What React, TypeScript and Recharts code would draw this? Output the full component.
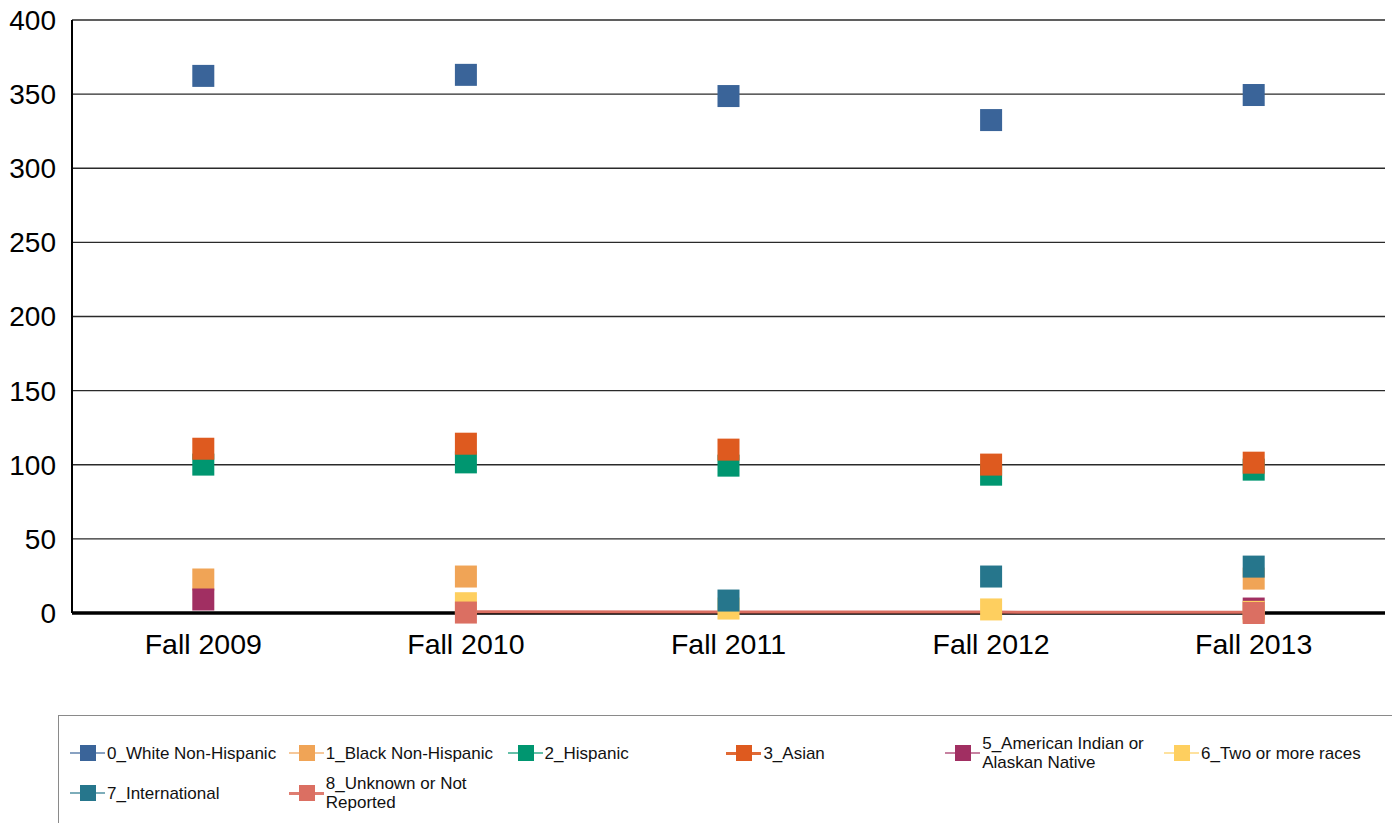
import React from "react";
import { LineChart, Line, XAxis, YAxis, CartesianGrid } from "recharts";

const categories = ["Fall 2009", "Fall 2010", "Fall 2011", "Fall 2012", "Fall 2013"];
const yTicks = [0, 50, 100, 150, 200, 250, 300, 350, 400];

const white = [362.3, 363, 348.7, 332.5, 349.4];
const black = [22.6, 24.6, null, null, 23.2];
const hispanic = [100.1, 101.6, 99.4, 93.3, 96.7];
const asian = [110.8, 114.2, 110.2, 100.1, 101.4];
const amIndian = [9.1, null, null, null, 3.0];
const twoOrMore = [null, 6.6, 3.0, 2.4, 0.8];
const international = [null, null, 8.4, 24.6, 31.3];
const unknownMarkers = [null, 0.3, null, null, 0];
const unknownLine = [null, 0.9, 0.7, 0.6, 0.5];

const seriesNames = [
  "0_White Non-Hispanic",
  "1_Black Non-Hispanic",
  "2_Hispanic",
  "3_Asian",
  "5_American Indian or\nAlaskan Native",
  "6_Two or more races",
  "7_International",
  "8_Unknown or Not\nReported",
];
const seriesKeys = ["white", "black", "hispanic", "asian", "amIndian", "twoOrMore", "international", "unknown"];
const seriesColors = ["#3A6499", "#F0A456", "#009670", "#DE5A1F", "#A12F62", "#FECF5F", "#26768C", "#DB6F62"];
const legendLineWidth = [1.5, 1.5, 1.5, 3, 1.5, 1.5, 1.5, 3];
const legendRow = [0, 0, 0, 0, 0, 0, 1, 1];
const legendCol = [0, 1, 2, 3, 4, 5, 0, 1];

const seriesValues: (number | null)[][] = [white, black, hispanic, asian, amIndian, twoOrMore, international, unknownMarkers];

const data = categories.map((c, i) => {
  const row: Record<string, any> = { name: c, unknownLine: unknownLine[i] };
  seriesKeys.forEach((k, s) => {
    row[k] = seriesValues[s][i];
  });
  return row;
});

const makeSquare = (color: string) => (props: any) => {
  const { cx, cy, value, index } = props;
  if (cx == null || cy == null || value == null || Number.isNaN(cy)) return <g key={`e-${index}`} />;
  return <rect key={`s-${index}`} x={cx - 11} y={cy - 11} width={22} height={22} fill={color} />;
};

const FONT = '"Liberation Sans", Arial, sans-serif';

function LegendBox() {
  return (
    <div
      style={{
        position: "absolute",
        left: 58,
        top: 715,
        width: 1345,
        height: 120,
        border: "1px solid #8a8a8a",
        boxSizing: "border-box",
        fontFamily: FONT,
      }}
    >
      {seriesNames.map((name, i) => {
        const left = 69 + legendCol[i] * 218.8 - 58;
        const centerY = (legendRow[i] === 0 ? 752 : 792) - 715;
        const lines = name.split("\n");
        return (
          <div
            key={name}
            style={{
              position: "absolute",
              left,
              top: centerY - 20,
              height: 40,
              display: "flex",
              alignItems: "center",
            }}
          >
            <div style={{ position: "relative", width: 37, height: 16, flex: "none" }}>
              <div
                style={{
                  position: "absolute",
                  left: 0,
                  width: 35,
                  top: 8 - legendLineWidth[i] / 2,
                  height: legendLineWidth[i],
                  background: seriesColors[i],
                  opacity: legendLineWidth[i] > 2 ? 0.9 : 0.6,
                }}
              />
              <div
                style={{
                  position: "absolute",
                  left: 10,
                  top: 0,
                  width: 16,
                  height: 16,
                  background: seriesColors[i],
                }}
              />
            </div>
            <div
              style={{
                fontSize: 17,
                lineHeight: "19px",
                color: "#111",
                whiteSpace: "nowrap",
              }}
            >
              {lines.map((l) => (
                <div key={l}>{l}</div>
              ))}
            </div>
          </div>
        );
      })}
    </div>
  );
}

export default function App() {
  return (
    <div style={{ position: "absolute", left: 0, top: 0, width: 1392, height: 823, background: "#fff", overflow: "hidden" }}>
      <LineChart
        width={1392}
        height={823}
        data={data}
        margin={{ top: 20, right: 7, left: 0, bottom: 150 }}
        style={{ fontFamily: FONT }}
      >
        <CartesianGrid yAxisId="left" horizontal={true} vertical={false} stroke="#2a2a2a" strokeWidth={1.4} />
        <CartesianGrid
          yAxisId="left"
          horizontal={true}
          vertical={false}
          horizontalValues={[0]}
          stroke="#000"
          strokeWidth={3.5}
        />
        <XAxis
          dataKey="name"
          scale="band"
          height={60}
          axisLine={false}
          tickLine={false}
          tickSize={0}
          tickMargin={21}
          tick={{ fill: "#000", fontSize: 28.5 }}
          interval={0}
        />
        <YAxis
          yAxisId="left"
          width={72}
          domain={[0, 400]}
          ticks={yTicks}
          axisLine={{ stroke: "#000", strokeWidth: 2 }}
          tickLine={false}
          tickSize={0}
          tickMargin={16}
          tick={{ fill: "#000", fontSize: 28 }}
          interval={0}
        />
        <YAxis
          yAxisId="right"
          orientation="right"
          width={0}
          domain={[0, 400]}
          tick={false}
          tickLine={false}
          axisLine={{ stroke: "#333", strokeWidth: 2 }}
        />
        {seriesKeys.slice(0, 7).map((k, i) => (
          <Line
            key={k}
            yAxisId="left"
            dataKey={k}
            stroke="none"
            isAnimationActive={false}
            dot={makeSquare(seriesColors[i])}
            activeDot={false}
            connectNulls={false}
          />
        ))}
        <Line
          yAxisId="left"
          dataKey="unknownLine"
          stroke="#DB6F62"
          strokeWidth={3}
          dot={false}
          activeDot={false}
          isAnimationActive={false}
        />
        <Line
          yAxisId="left"
          dataKey="unknown"
          stroke="none"
          isAnimationActive={false}
          dot={makeSquare(seriesColors[7])}
          activeDot={false}
        />
      </LineChart>
      <LegendBox />
    </div>
  );
}
